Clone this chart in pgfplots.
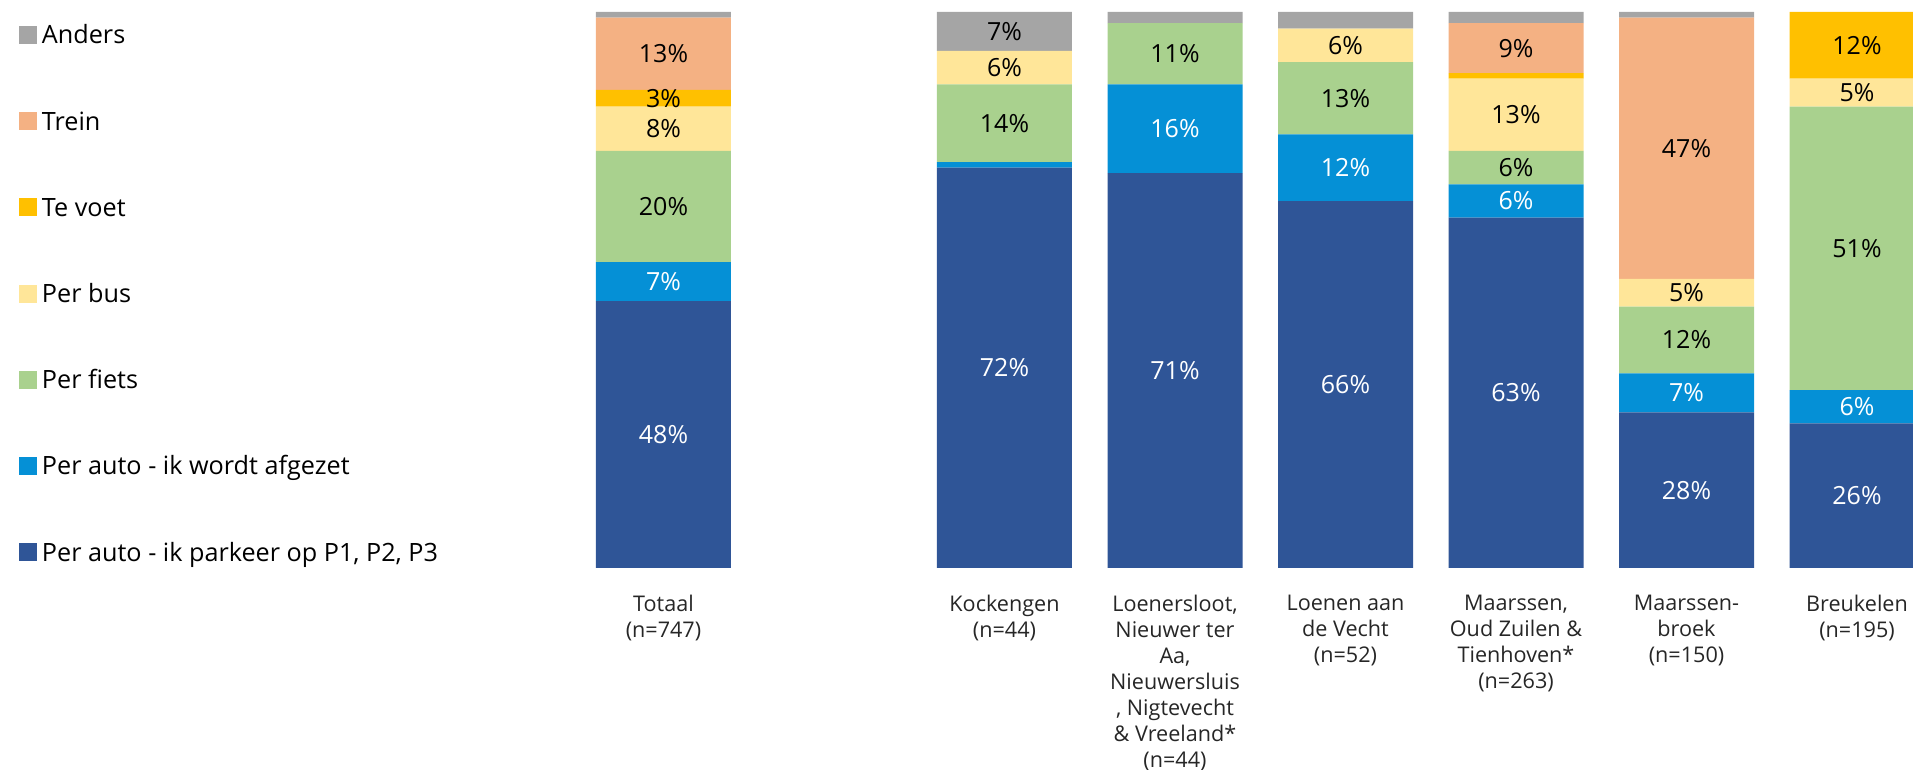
\documentclass[border=0pt]{standalone}
\usepackage{fontspec}
\setmainfont{Open Sans}
\usepackage{pgfplots}
\pgfplotsset{compat=1.18}
\usepackage{pgfplotstable}
\definecolor{cAnd}{HTML}{A5A5A5}
\definecolor{cTre}{HTML}{F4B183}
\definecolor{cVoe}{HTML}{FFC000}
\definecolor{cBus}{HTML}{FFE699}
\definecolor{cFie}{HTML}{A9D18E}
\definecolor{cAfg}{HTML}{0590D6}
\definecolor{cPar}{HTML}{2F5597}
\pgfplotstableread{
x A B C D E F G
0 48 7 20 8 3 13 1
2 72 1 14 6 0 0 7
3 71 16 11 0 0 0 2
4 66 12 13 6 0 0 3
5 63 6 6 13 1 9 2
6 28 7 12 5 0 47 1
7 26 6 51 5 12 0 0
}\data
\pgfplotsset{
  lbl/.style={nodes near coords={\pgfmathfloattofixed{\pgfplotspointmeta}\ifdim\pgfmathresult pt<#1pt\relax\else\pgfmathprintnumber{\pgfplotspointmeta}\%\fi}},
  sq/.style={fill=#1, draw=none, legend image code/.code={\fill[#1] (0pt,0pt) rectangle (9pt,9pt);}},
}
\begin{document}
\begin{tikzpicture}
\useasboundingbox (-280.6pt,-101pt) rectangle (675.9pt,284pt);
\begin{axis}[
  scale only axis, width=675.9pt, height=278pt,
  at={(0,0)}, anchor=south west,
  ybar stacked, bar width=67.5pt,
  xmin=-0.6, xmax=7.3284, ymin=0, ymax=100,
  axis line style={draw=none}, ytick=\empty,
  xtick={0,2,3,4,5,6,7},
  xticklabels={{Totaal\\(n=747)},{Kockengen\\(n=44)},{Loenersloot,\\Nieuwer ter\\Aa,\\Nieuwersluis\\, Nigtevecht\\\& Vreeland*\\(n=44)},{Loenen aan\\de Vecht\\(n=52)},{Maarssen,\\Oud Zuilen \&\\Tienhoven*\\(n=263)},{Maarssen-\\broek\\(n=150)},{Breukelen\\(n=195)}},
  major tick length=0pt,
  xticklabel style={font=\fontsize{10.8}{13}\selectfont, align=center, anchor=north, inner sep=0pt, yshift=-13.2pt, text=black!85},
  /pgf/number format/assume math mode=true,
  every node near coord/.append style={anchor=center, font=\fontsize{12.5}{14}\selectfont, inner sep=0pt},
  point meta=explicit,
  reverse legend,
  legend cell align=left,
  legend style={at={(axis description cs:-0.40109,0.97662)}, anchor=north west, draw=none, fill=none, inner sep=0pt, outer sep=0pt, row sep=33.6pt, column sep=2.5pt, font=\fontsize{12.6}{14}\selectfont, nodes={inner sep=0pt, text height=9.5pt, text depth=0pt, anchor=base west}},
]
\addplot[sq=cPar, lbl=3, every node near coord/.append style={text=white}] table[x=x, y=A, meta=A] {\data};
\addlegendentry{Per auto - ik parkeer op P1, P2, P3}
\addplot[sq=cAfg, lbl=3, every node near coord/.append style={text=white}] table[x=x, y=B, meta=B] {\data};
\addlegendentry{Per auto - ik wordt afgezet}
\addplot[sq=cFie, lbl=3] table[x=x, y=C, meta=C] {\data};
\addlegendentry{Per fiets}
\addplot[sq=cBus, lbl=3] table[x=x, y=D, meta=D] {\data};
\addlegendentry{Per bus}
\addplot[sq=cVoe, lbl=3] table[x=x, y=E, meta=E] {\data};
\addlegendentry{Te voet}
\addplot[sq=cTre, lbl=3] table[x=x, y=F, meta=F] {\data};
\addlegendentry{Trein}
\addplot[sq=cAnd, lbl=5] table[x=x, y=G, meta=G] {\data};
\addlegendentry{Anders}
\end{axis}
\end{tikzpicture}
\end{document}
